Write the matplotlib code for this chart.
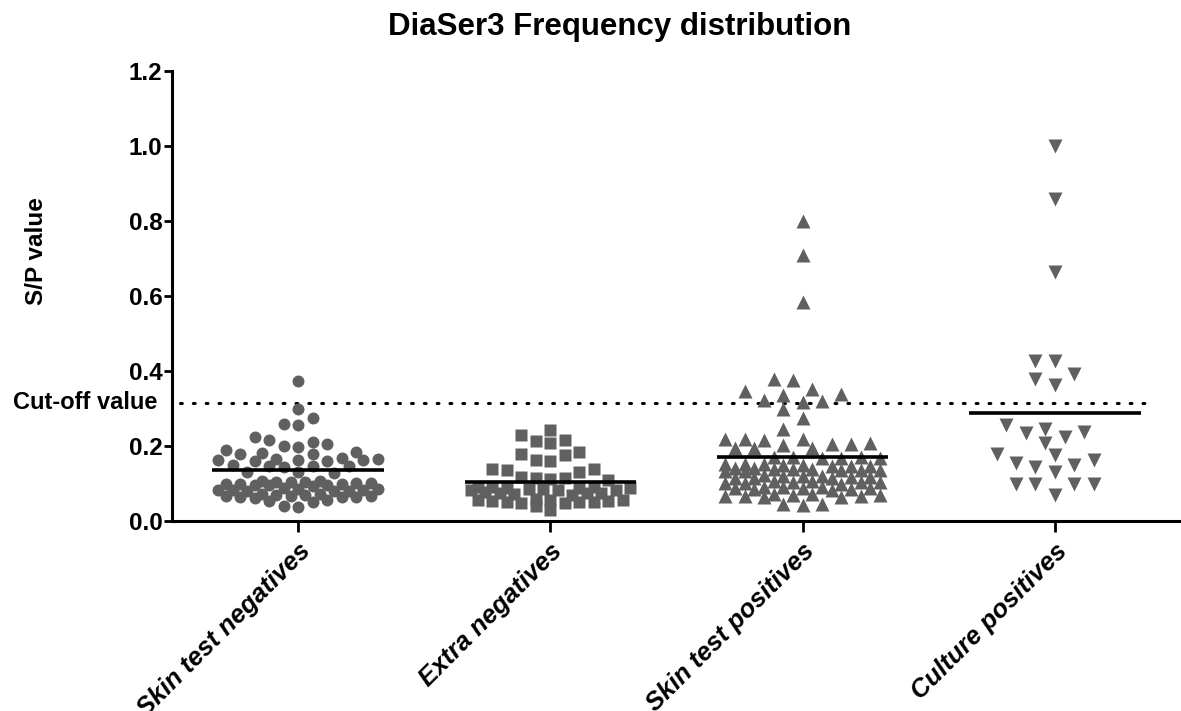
import numpy as np
import matplotlib
matplotlib.use("Agg")
import matplotlib.pyplot as plt

plt.rcParams['font.family'] = ['Liberation Sans', 'DejaVu Sans']
plt.rcParams['font.weight'] = 'bold'

title = "DiaSer3 Frequency distribution"
y_label = "S/P value"
categories = ["Skin test negatives", "Extra negatives", "Skin test positives", "Culture positives"]
cutoff_value = 0.315
cutoff_label = "Cut-off value"
mean_values = [0.136, 0.104, 0.171, 0.288]
y_ticks = [0.0, 0.2, 0.4, 0.6, 0.8, 1.0, 1.2]

skin_test_negatives = [
    0.373, 0.300, 0.275, 0.258, 0.255, 0.224, 0.215, 0.212, 0.205, 0.200, 0.198, 0.190,
    0.183, 0.182, 0.180, 0.178, 0.168, 0.165, 0.164, 0.163, 0.162, 0.161, 0.160, 0.166,
    0.148, 0.147, 0.146, 0.145, 0.150,
    0.132, 0.130, 0.128,
    0.108, 0.106, 0.105, 0.104, 0.103, 0.102, 0.101, 0.100, 0.099, 0.098, 0.097, 0.096,
    0.095, 0.094,
    0.088, 0.086, 0.085, 0.084, 0.083, 0.082, 0.081, 0.080, 0.079,
    0.072, 0.071, 0.070, 0.069, 0.068, 0.067, 0.066, 0.065, 0.064, 0.063, 0.062,
    0.055, 0.054, 0.052, 0.040, 0.038]

extra_negatives = [
    0.243, 0.230, 0.216, 0.214, 0.208, 0.184, 0.180, 0.176, 0.163, 0.161, 0.140, 0.138,
    0.136, 0.131,
    0.118, 0.116, 0.114, 0.112, 0.110,
    0.092, 0.091, 0.090, 0.089, 0.088, 0.087, 0.086, 0.085, 0.084, 0.083, 0.082,
    0.078, 0.076, 0.075, 0.074, 0.072, 0.070,
    0.058, 0.057, 0.056, 0.055, 0.054, 0.053, 0.052, 0.051, 0.050, 0.049, 0.048,
    0.040, 0.030]

skin_test_positives = [
    0.800, 0.710, 0.585, 0.378, 0.376, 0.352, 0.348, 0.340, 0.336, 0.322, 0.320, 0.318,
    0.300, 0.275, 0.245,
    0.220, 0.219, 0.218, 0.217,
    0.207, 0.206, 0.205, 0.204, 0.196, 0.195, 0.194,
    0.172, 0.171, 0.170, 0.169, 0.168, 0.167,
    0.153, 0.152, 0.151, 0.150, 0.149, 0.148, 0.147, 0.146,
    0.142, 0.141, 0.140, 0.139, 0.138, 0.137, 0.136, 0.135, 0.134, 0.133,
    0.122, 0.121, 0.120, 0.119, 0.118, 0.117, 0.116, 0.115, 0.114,
    0.107, 0.106, 0.105, 0.104, 0.103, 0.102, 0.101, 0.100,
    0.092, 0.091, 0.090, 0.089, 0.088, 0.087, 0.086, 0.085, 0.084,
    0.072, 0.071, 0.070, 0.069, 0.068, 0.067, 0.066, 0.065, 0.064,
    0.046, 0.045, 0.044]

culture_positives = [
    1.000, 0.860, 0.664, 0.427, 0.427, 0.392, 0.380, 0.363,
    0.256, 0.245, 0.237, 0.235, 0.225, 0.208,
    0.178, 0.176, 0.163, 0.155, 0.149, 0.145, 0.132,
    0.100, 0.100, 0.100, 0.098, 0.070]

groups = [skin_test_negatives, extra_negatives, skin_test_positives, culture_positives]
markers = ['o', 's', '^', 'v']
marker_sizes = [8.6, 8.0, 10.2, 9.8]
col_step_px = [14.5, 14.5, 19.3, 19.4]
row_px = [12.0, 11.5, 13.0, 13.0]
marker_color = '#606060'

FIG_W, FIG_H = 1181, 711
AX_L, AX_R, AX_B, AX_T = 172, 1181, 521, 71
px_per_x = (AX_R - AX_L) / 4.0
px_per_y = (AX_B - AX_T) / 1.2
max_half_px = 84.0


def swarm_offsets(vals, step, rowh):
    vals = np.asarray(vals, dtype=float)
    order = np.argsort(vals)
    K = int(max_half_px // (step / 2.0))
    cands = sorted(range(-K, K + 1), key=lambda k: (abs(k), k))
    placed = []
    offs = np.zeros(len(vals))
    for i in order:
        y = vals[i] * px_per_y
        best, best_m = None, -1.0
        for k in cands:
            x = k * step / 2.0
            m = min([((x - px) / step) ** 2 + ((y - py) / rowh) ** 2 for px, py in placed] or [9.0])
            if m >= 1.0:
                best = x
                break
            if m > best_m:
                best_m, best = m, x
        placed.append((best, y))
        offs[i] = best / px_per_x
    return offs


fig = plt.figure(figsize=(FIG_W / 100, FIG_H / 100), dpi=100)
ax = fig.add_axes([AX_L / FIG_W, 1 - AX_B / FIG_H, (AX_R - AX_L) / FIG_W, (AX_B - AX_T) / FIG_H])

for gi, vals in enumerate(groups):
    offs = swarm_offsets(vals, col_step_px[gi], row_px[gi])
    ax.plot(gi + offs, vals, linestyle='none', marker=markers[gi], ms=marker_sizes[gi],
            mfc=marker_color, mec='none', zorder=3, clip_on=False)
    ax.plot([gi - 0.34, gi + 0.34], [mean_values[gi]] * 2, color='black', lw=2.6,
            solid_capstyle='butt', zorder=4)

ax.plot([-0.47, 3.39], [cutoff_value] * 2, color='black', lw=2.2, linestyle=(0, (0.6, 3.6)),
        dash_capstyle='round', zorder=2)

ax.set_xlim(-0.5, 3.5)
ax.set_ylim(0, 1.2)
ax.set_yticks(y_ticks)
ax.set_yticklabels([f"{t:.1f}" for t in y_ticks], fontsize=17.5, fontweight='bold')
ax.set_xticks(range(len(categories)))
ax.set_xticklabels(categories, rotation=45, ha='right', va='top', rotation_mode='anchor',
                   fontsize=18.5, fontweight='bold', fontstyle='italic')
for s in ['top', 'right']:
    ax.spines[s].set_visible(False)
for s in ['left', 'bottom']:
    ax.spines[s].set_linewidth(2.2)
ax.tick_params(axis='y', length=6, width=2, pad=1)
ax.tick_params(axis='x', length=8, width=2, pad=5)

ax.text(-0.0145, cutoff_value, cutoff_label, transform=ax.get_yaxis_transform(),
        ha='right', va='center', fontsize=17, fontweight='bold')
ax.set_ylabel(y_label, fontsize=17.5, fontweight='bold')
ax.yaxis.set_label_coords(-0.123, 0.6)
fig.text(620 / FIG_W, 1 - 27 / FIG_H, title, ha='center', va='center', fontsize=22.5, fontweight='bold')

fig.savefig('out.png', dpi=100)
